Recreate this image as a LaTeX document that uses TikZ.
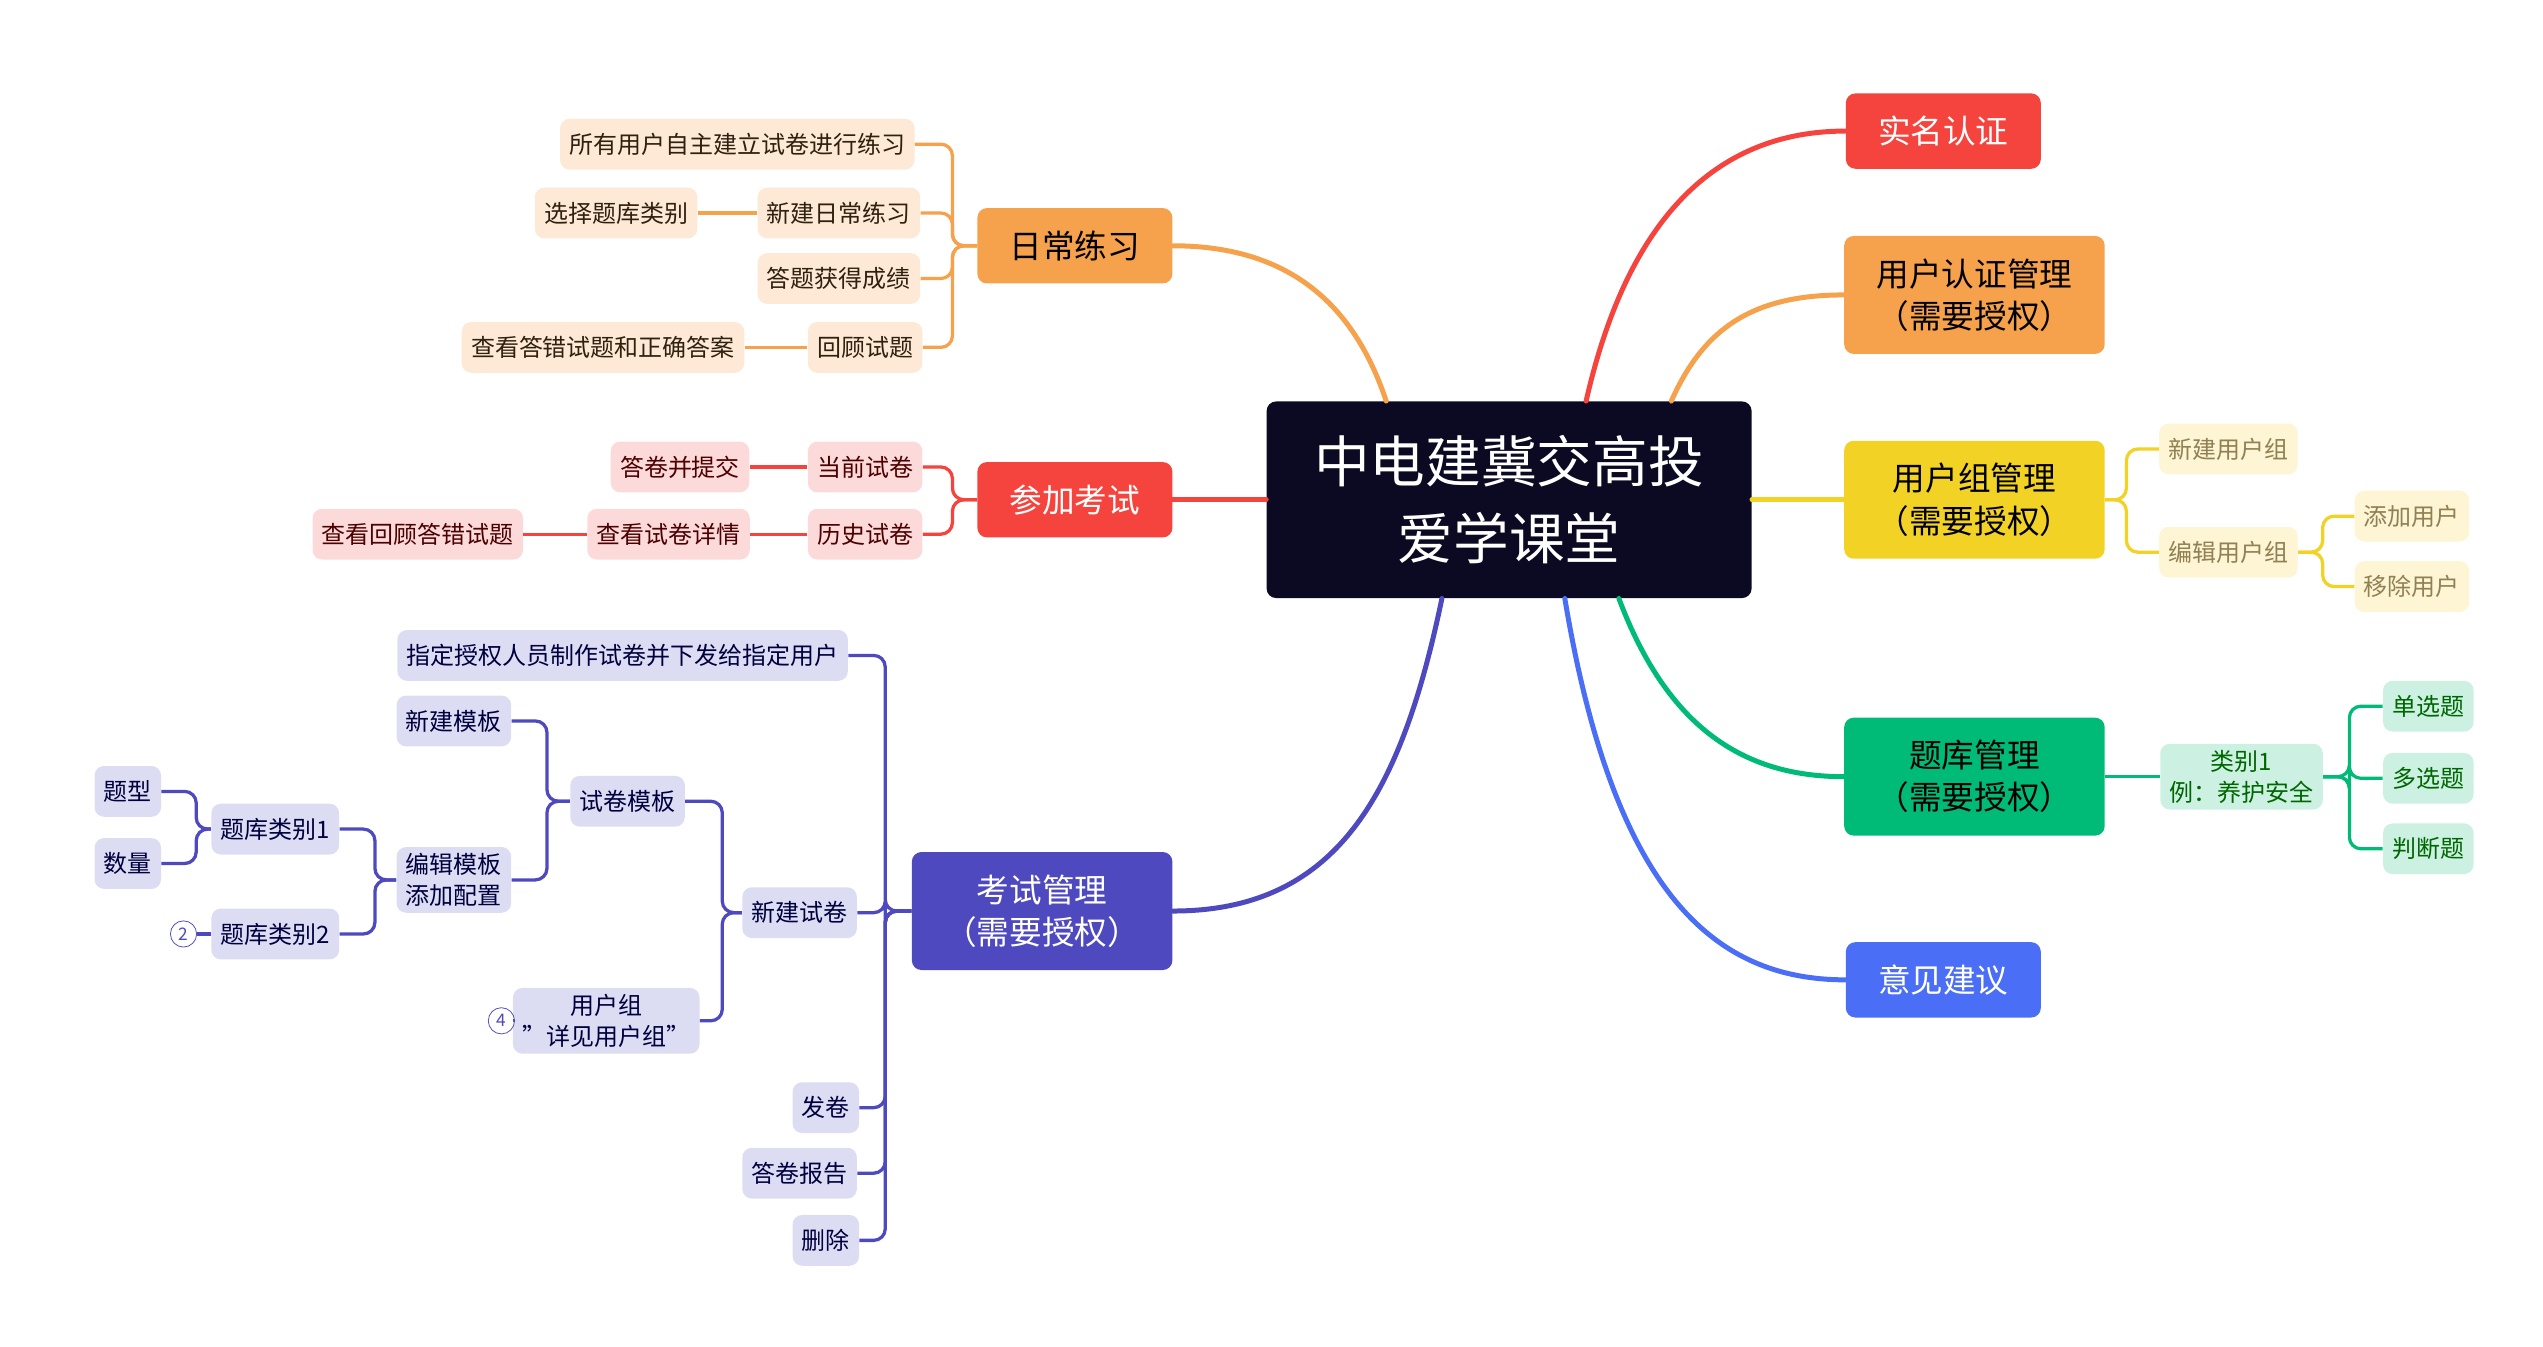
\documentclass[tikz,border=0pt]{standalone}
\usepackage{fontspec}
\setmainfont{Noto Sans CJK SC}
\usetikzlibrary{positioning}
\definecolor{cRed}{HTML}{F5433D}
\definecolor{cOrange}{HTML}{F6A14C}
\definecolor{cYellow}{HTML}{F2D224}
\definecolor{cGreen}{HTML}{00BA78}
\definecolor{cBlue}{HTML}{4A6EF5}
\definecolor{cPurple}{HTML}{4F49C0}
\definecolor{cDark}{HTML}{0B0A22}
\definecolor{lOrange}{HTML}{FDE9D6}
\definecolor{lRed}{HTML}{FDDADA}
\definecolor{lPurple}{HTML}{DCDCF2}
\definecolor{lYellow}{HTML}{FDF5D4}
\definecolor{lGreen}{HTML}{CCF1E3}
\tikzset{
  main node/.style={rounded corners=5pt,align=center,minimum height=1.38cm,
    minimum width=3.57cm,font=\fontsize{17}{22}\selectfont},
  wide node/.style={main node,minimum height=2.16cm,minimum width=4.77cm},
  sub node/.style={rounded corners=5pt,align=center,minimum height=0.93cm,
    inner xsep=0.17cm,font=\fontsize{12.5}{16}\selectfont},
  orange sub/.style={sub node,fill=lOrange,text=black!75!brown},
  red sub/.style={sub node,fill=lRed,text=black!70!red},
  purple sub/.style={sub node,fill=lPurple,text=black!75!blue},
  yellow sub/.style={sub node,fill=lYellow,text=black!65!yellow!60!brown},
  green sub/.style={sub node,fill=lGreen,text=black!60!green},
  num node/.style={circle,draw=cPurple,fill=white,inner sep=0pt,minimum size=0.48cm,
    text=cPurple,font=\fontsize{9}{9}\selectfont},
  branch/.style={line width=2.6pt,line cap=round},
  twig/.style={line width=1.7pt,rounded corners=6pt},
}
\begin{document}
\begin{tikzpicture}[x=0.03cm,y=-0.03cm]
\useasboundingbox (0,0) rectangle (1552,822);

% center
\node[fill=cDark,text=white,rounded corners=5pt,align=center,minimum width=8.88cm,
  minimum height=3.6cm,font=\fontsize{29}{40}\selectfont] (ctr) at (921,305) {中电建冀交高投\\爱学课堂};

% right branches
\node[main node,fill=cRed,text=white] (real) at (1186,80) {实名认证};
\node[wide node,fill=cOrange] (auth) at (1205,180) {用户认证管理\\（需要授权）};
\node[wide node,fill=cYellow] (grp) at (1205,305) {用户组管理\\（需要授权）};
\node[wide node,fill=cGreen] (bank) at (1205,474) {题库管理\\（需要授权）};
\node[main node,fill=cBlue,text=white] (advice) at (1186,598) {意见建议};

% left branches
\node[main node,fill=cOrange] (daily) at (656,150) {日常练习};
\node[main node,fill=cRed,text=white] (exam) at (656,305) {参加考试};
\node[wide node,fill=cPurple,text=white] (mgr) at (636,556) {考试管理\\（需要授权）};

\draw[branch,cRed] ([xshift=1.41cm]ctr.north) .. controls +(25,-110) and +(-80,0) .. (real.west);
\draw[branch,cOrange] ([xshift=2.97cm]ctr.north) .. controls +(20,-45) and +(-55,0) .. (auth.west);
\draw[branch,cYellow] (ctr.east) -- (grp.west);
\draw[branch,cGreen] ([xshift=2.01cm]ctr.south) .. controls +(30,80) and +(-60,0) .. (bank.west);
\draw[branch,cBlue] ([xshift=1.02cm]ctr.south) .. controls +(30,180) and +(-80,0) .. (advice.west);
\draw[branch,cOrange] (daily.east) .. controls +(70,0) and +(-20,-60) .. ([xshift=-2.25cm]ctr.north);
\draw[branch,cRed] (exam.east) -- (ctr.west);
\draw[branch,cPurple] (mgr.east) .. controls +(100,0) and +(-25,120) .. ([xshift=-1.23cm]ctr.south);

% daily practice
\node[orange sub] (d1) at (450,88) {所有用户自主建立试卷进行练习};
\node[orange sub] (d2) at (512,130) {新建日常练习};
\node[orange sub] (d2a) at (376,130) {选择题库类别};
\node[orange sub] (d3) at (512,170) {答题获得成绩};
\node[orange sub] (d4) at (528,212) {回顾试题};
\node[orange sub] (d4a) at (368,212) {查看答错试题和正确答案};
\foreach \c in {d1,d2,d3,d4}
  \draw[twig,cOrange] (daily.west) -- ++(-15,0) |- (\c.east);
\draw[twig,cOrange] (d2.west) -- (d2a.east);
\draw[twig,cOrange] (d4.west) -- (d4a.east);

% take exam
\node[red sub] (e1) at (528,285) {当前试卷};
\node[red sub] (e1a) at (415,285) {答卷并提交};
\node[red sub] (e2) at (528,326) {历史试卷};
\node[red sub] (e2a) at (408,326) {查看试卷详情};
\node[red sub] (e2b) at (255,326) {查看回顾答错试题};
\foreach \c in {e1,e2}
  \draw[twig,cRed] (exam.west) -- ++(-15,0) |- (\c.east);
\draw[twig,cRed] (e1.west) -- (e1a.east);
\draw[twig,cRed] (e2.west) -- (e2a.east);
\draw[twig,cRed] (e2a.west) -- (e2b.east);

% exam management
\node[purple sub] (m1) at (380,400) {指定授权人员制作试卷并下发给指定用户};
\node[purple sub] (m2) at (488,557) {新建试卷};
\node[purple sub] (m3) at (504,676) {发卷};
\node[purple sub] (m4) at (488,716) {答卷报告};
\node[purple sub] (m5) at (504,757) {删除};
\node[purple sub] (tpl) at (383,489) {试卷模板};
\node[purple sub] (ug) at (370,623) {用户组\\"详见用户组"};
\node[num node] (n4) at (306,623) {4};
\node[purple sub] (tnew) at (277,440) {新建模板};
\node[purple sub] (tedit) at (277,537) {编辑模板\\添加配置};
\node[purple sub] (cat1) at (168,506) {题库类别1};
\node[purple sub] (cat2) at (168,570) {题库类别2};
\node[num node] (n2) at (112,570) {2};
\node[purple sub] (qtype) at (78,483) {题型};
\node[purple sub] (qnum) at (78,527) {数量};
\foreach \c in {m1,m2,m3,m4,m5}
  \draw[twig,cPurple] (mgr.west) -- ++(-16,0) |- (\c.east);
\foreach \c in {tpl,ug}
  \draw[twig,cPurple] (m2.west) -- ++(-12,0) |- (\c.east);
\foreach \c in {tnew,tedit}
  \draw[twig,cPurple] (tpl.west) -- ++(-14,0) |- (\c.east);
\foreach \c in {cat1,cat2}
  \draw[twig,cPurple] (tedit.west) -- ++(-13,0) |- (\c.east);
\foreach \c in {qtype,qnum}
  \draw[twig,cPurple] (cat1.west) -- ++(-9,0) |- (\c.east);
\draw[twig,cPurple] (ug.west) -- (n4.east);
\draw[twig,cPurple] (cat2.west) -- (n2.east);

% user group management
\node[yellow sub] (g1) at (1360,274) {新建用户组};
\node[yellow sub] (g2) at (1360,337) {编辑用户组};
\node[yellow sub] (g2a) at (1472,315) {添加用户};
\node[yellow sub] (g2b) at (1472,358) {移除用户};
\foreach \c in {g1,g2}
  \draw[twig,cYellow] (grp.east) -- ++(13,0) |- (\c.west);
\foreach \c in {g2a,g2b}
  \draw[twig,cYellow] (g2.east) -- ++(15,0) |- (\c.west);

% question bank
\node[green sub] (b1) at (1368,474) {类别1\\例：养护安全};
\node[green sub] (b1a) at (1482,431) {单选题};
\node[green sub] (b1b) at (1482,475) {多选题};
\node[green sub] (b1c) at (1482,518) {判断题};
\draw[twig,cGreen] (bank.east) -- (b1.west);
\foreach \c in {b1a,b1b,b1c}
  \draw[twig,cGreen] (b1.east) -- ++(16,0) |- (\c.west);
\end{tikzpicture}
\end{document}
